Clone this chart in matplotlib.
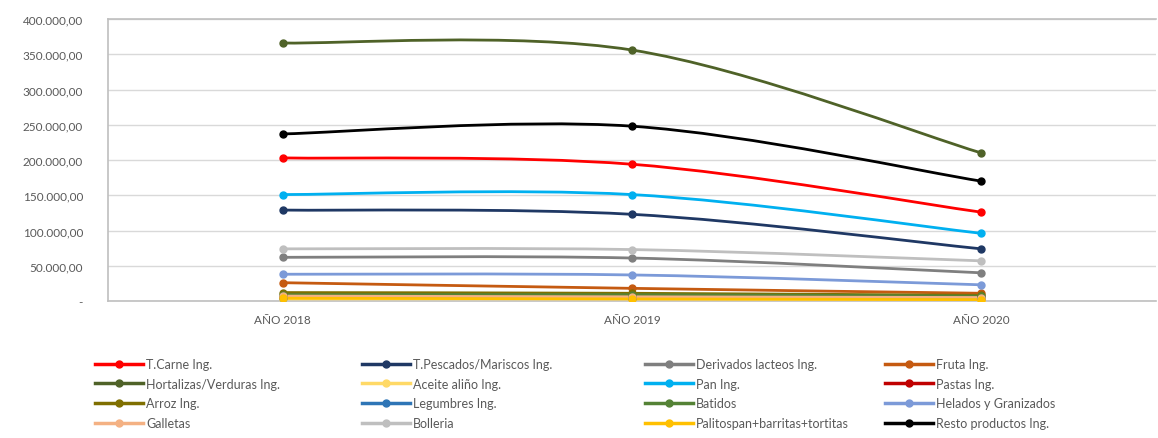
import numpy as np
import matplotlib
matplotlib.use("Agg")
import matplotlib.pyplot as plt
from matplotlib.path import Path
from matplotlib.patches import PathPatch
from matplotlib.lines import Line2D
from matplotlib.ticker import FuncFormatter

plt.rcParams['font.family'] = ['Lato', 'DejaVu Sans']

years = ['AÑO 2018', 'AÑO 2019', 'AÑO 2020']

# series values (legend order, row by row)
t_carne = [203000, 194000, 126000]
t_pescados = [129000, 123000, 74000]
derivados_lacteos = [62000, 61000, 40000]
fruta = [26000, 18000, 11000]
hortalizas = [366000, 356000, 210000]
aceite = [3000, 3000, 2000]
pan = [151000, 151000, 96000]
pastas = [6000, 5000, 4000]
arroz = [12000, 11000, 8000]
legumbres = [5000, 5000, 4000]
batidos = [9000, 9000, 7000]
helados = [38000, 37000, 23000]
galletas = [7000, 6000, 5000]
bolleria = [74000, 73000, 57000]
palitospan = [4000, 3000, 2000]
resto = [237000, 248000, 170000]

names = ['T.Carne Ing.', 'T.Pescados/Mariscos Ing.', 'Derivados lacteos Ing.', 'Fruta Ing.',
         'Hortalizas/Verduras Ing.', 'Aceite aliño Ing.', 'Pan Ing.', 'Pastas Ing.',
         'Arroz Ing.', 'Legumbres Ing.', 'Batidos', 'Helados y Granizados',
         'Galletas', 'Bolleria', 'Palitospan+barritas+tortitas', 'Resto productos Ing.']
series = [t_carne, t_pescados, derivados_lacteos, fruta,
          hortalizas, aceite, pan, pastas,
          arroz, legumbres, batidos, helados,
          galletas, bolleria, palitospan, resto]
colors = ['#FF0000', '#1F3864', '#7F7F7F', '#C55A11',
          '#4F6228', '#FFD966', '#00B0F0', '#C00000',
          '#7F6F00', '#2E75B6', '#548235', '#7C9AD8',
          '#F4B183', '#BFBFBF', '#FFC000', '#000000']


# excel style smoothed line through the points
def smooth_path(x, y):
    x = np.asarray(x, float)
    y = np.asarray(y, float)
    n = len(x)
    verts = [(x[0], y[0])]
    codes = [Path.MOVETO]
    for i in range(n - 1):
        p0 = i - 1 if i > 0 else i
        p3 = i + 2 if i + 2 < n else i + 1
        c1 = (x[i] + (x[i + 1] - x[p0]) / 6, y[i] + (y[i + 1] - y[p0]) / 6)
        c2 = (x[i + 1] - (x[p3] - x[i]) / 6, y[i + 1] - (y[p3] - y[i]) / 6)
        verts += [c1, c2, (x[i + 1], y[i + 1])]
        codes += [Path.CURVE4] * 3
    return Path(verts, codes)


fig = plt.figure(figsize=(11.58, 4.39), dpi=100)
ax = fig.add_axes([0.0933, 0.312, 0.905, 0.6424])

xs = np.arange(len(years))
for vals, col in zip(series, colors):
    ax.add_patch(PathPatch(smooth_path(xs, vals), facecolor='none', edgecolor=col, lw=2.0,
                           capstyle='round', joinstyle='round', zorder=3))
    ax.plot(xs, vals, linestyle='none', marker='o', markersize=5, color=col, zorder=4)

ax.set_xlim(-0.5, 2.5)
ax.set_ylim(0, 400000)
ax.set_yticks(np.arange(0, 400001, 50000))


def fmt(v, pos):
    if v == 0:
        return '-'
    return '{:,.2f}'.format(v).replace(',', 'X').replace('.', ',').replace('X', '.')


ax.yaxis.set_major_formatter(FuncFormatter(fmt))
ax.set_xticks(xs)
ax.set_xticklabels(years)
ax.tick_params(axis='both', length=0, colors='#595959', labelsize=8.5)
ax.tick_params(axis='x', pad=9)
ax.tick_params(axis='y', pad=18)
ax.grid(axis='y', color='#D9D9D9', lw=1.0)
ax.set_axisbelow(True)
for s in ['top', 'left', 'bottom']:
    ax.spines[s].set_color('#BFBFBF')
    ax.spines[s].set_linewidth(1.2)
ax.spines['right'].set_visible(False)

# legend: 4 columns, filled row by row, one legend per column
col_x = [95, 362, 645, 885]
for c in range(4):
    idx = [r * 4 + c for r in range(4)]
    hs = [Line2D([], [], color=colors[i], lw=2.5, marker='o', markersize=5) for i in idx]
    leg = fig.legend(hs, [names[i] for i in idx], loc='upper left',
                     bbox_to_anchor=(col_x[c] / 1158, 1 - 359 / 439),
                     frameon=False, fontsize=9, labelcolor='#595959', handlelength=3.8,
                     handletextpad=0.3, labelspacing=0.62, borderaxespad=0, borderpad=0)

fig.savefig('out.png', dpi=100)
